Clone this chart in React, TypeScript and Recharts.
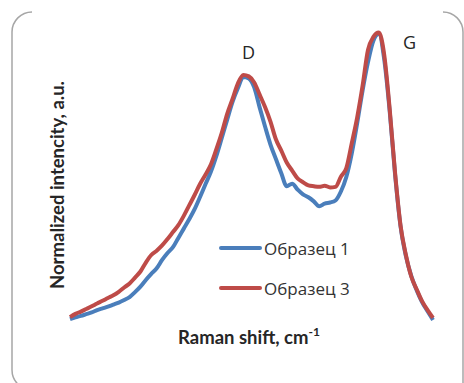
import { LineChart, Line, XAxis, YAxis, Label } from "recharts"

// Raman shift grid, cm-1 (10 cm-1 step)
const shift = Array.from({ length: 68 }, (_, i) => 1030 + i * 10)

// Normalized intensity, a.u.
const sample1 = [
  0.010, 0.016, 0.021, 0.027, 0.033, 0.041, 0.047, 0.053, 0.060, 0.067,
  0.076, 0.086, 0.103, 0.122, 0.145, 0.166, 0.185, 0.214, 0.238, 0.258,
  0.290, 0.322, 0.354, 0.389, 0.431, 0.475, 0.518, 0.572, 0.634, 0.697,
  0.759, 0.807, 0.845, 0.840, 0.809, 0.740, 0.674, 0.612, 0.562, 0.513,
  0.468, 0.477, 0.457, 0.440, 0.430, 0.416, 0.399, 0.408, 0.412, 0.419,
  0.450, 0.500, 0.581, 0.685, 0.798, 0.896, 0.970, 0.993, 0.905, 0.728,
  0.508, 0.331, 0.227, 0.158, 0.109, 0.068, 0.037, 0.007,
]

const sample3 = [
  0.017, 0.028, 0.036, 0.045, 0.054, 0.064, 0.073, 0.083, 0.092, 0.104,
  0.119, 0.133, 0.153, 0.174, 0.205, 0.231, 0.246, 0.264, 0.286, 0.310,
  0.334, 0.366, 0.402, 0.438, 0.476, 0.508, 0.543, 0.595, 0.651, 0.717,
  0.769, 0.823, 0.852, 0.847, 0.826, 0.784, 0.741, 0.691, 0.630, 0.591,
  0.550, 0.522, 0.495, 0.482, 0.471, 0.468, 0.466, 0.470, 0.464, 0.466,
  0.501, 0.531, 0.616, 0.705, 0.814, 0.938, 0.983, 0.998, 0.921, 0.736,
  0.514, 0.334, 0.231, 0.156, 0.112, 0.071, 0.041, 0.014,
]

const seriesNames = ["Образец 1", "Образец 3"]
const seriesColors = ["#4A7EBB", "#BE4B48"]

const data = shift.map((x, i) => ({ shift: x, s1: sample1[i], s3: sample3[i] }))

const TEXT = "#262626"

// legend sits inside the plot, so it is drawn on top instead of taking chart space
function LegendBox() {
  return (
    <div
      style={{
        position: "absolute",
        left: 219,
        top: 228,
        fontFamily: "'Open Sans', sans-serif",
        fontSize: 17,
        color: "#333",
      }}
    >
      {seriesNames.map((name, i) => (
        <div key={name} style={{ display: "flex", alignItems: "center", height: 40 }}>
          <div style={{ width: 43, height: 4, borderRadius: 2, background: seriesColors[i], marginRight: 2 }} />
          <span>{name}</span>
        </div>
      ))}
    </div>
  )
}

export default function App() {
  return (
    <div style={{ position: "absolute", left: 0, top: 0, width: 464, height: 383, background: "#fff", overflow: "hidden" }}>
      <LineChart width={464} height={383} data={data} margin={{ top: 32, right: 31, bottom: 21, left: 30 }}>
        <XAxis
          dataKey="shift"
          type="number"
          domain={[1030, 1700]}
          tick={false}
          axisLine={false}
          tickLine={false}
          height={40}
        >
          <Label
            content={() => (
              <text x={178} y={344} fill={TEXT} fontFamily="Lato, sans-serif" fontWeight={700} fontSize={18.5}>
                Raman shift, cm
                <tspan dy={-8} fontSize={12}>-1</tspan>
              </text>
            )}
          />
        </XAxis>
        <YAxis domain={[0, 1]} tick={false} axisLine={false} tickLine={false} width={40}>
          <Label
            content={() => (
              <text
                x={0}
                y={0}
                transform="translate(64 185) rotate(-90)"
                textAnchor="middle"
                fill={TEXT}
                fontFamily="Lato, sans-serif"
                fontWeight={700}
                fontSize={18.5}
              >
                Normalized intencity, a.u.
              </text>
            )}
          />
        </YAxis>
        <Line
          dataKey="s1"
          name={seriesNames[0]}
          type="monotone"
          stroke={seriesColors[0]}
          strokeWidth={4}
          dot={false}
          isAnimationActive={false}
        />
        <Line
          dataKey="s3"
          name={seriesNames[1]}
          type="monotone"
          stroke={seriesColors[1]}
          strokeWidth={4}
          dot={false}
          isAnimationActive={false}
        />
      </LineChart>
      <LegendBox />
      <div style={{ position: "absolute", left: 242, top: 40, fontFamily: "'Open Sans', sans-serif", fontSize: 18, color: TEXT }}>
        D
      </div>
      <div style={{ position: "absolute", left: 403, top: 30, fontFamily: "'Open Sans', sans-serif", fontSize: 18, color: TEXT }}>
        G
      </div>
      <svg width={464} height={383} style={{ position: "absolute", left: 0, top: 0, pointerEvents: "none" }}>
        <path
          d="M32 12 A20 20 0 0 0 12 32 L12 370 A20 20 0 0 0 32 390"
          fill="none"
          stroke="#a6a6a6"
          strokeWidth={1.5}
        />
        <path d="M443 12 A20 20 0 0 1 463 32 L463 383" fill="none" stroke="#a6a6a6" strokeWidth={1.5} />
      </svg>
    </div>
  )
}
